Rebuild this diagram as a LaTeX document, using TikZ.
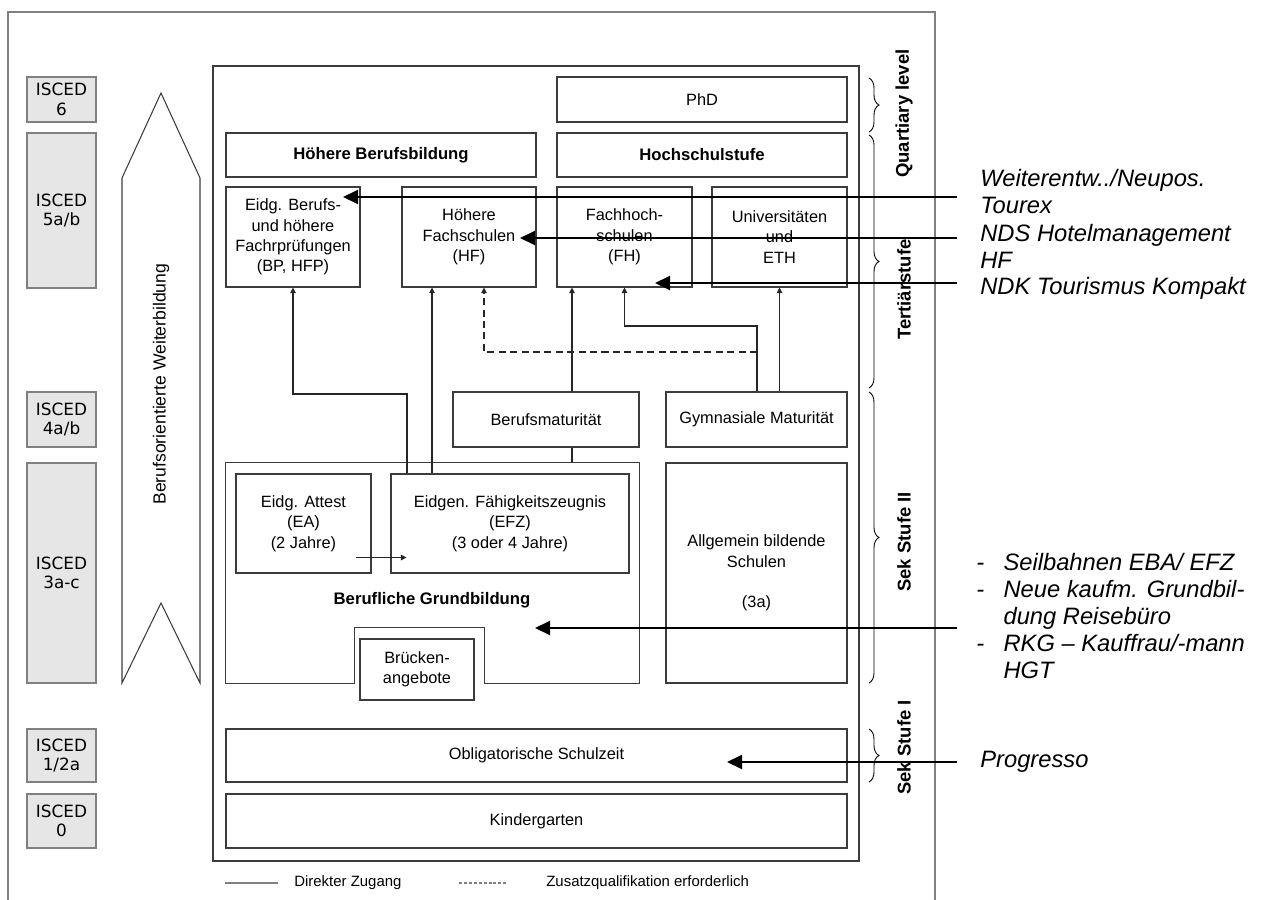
\documentclass[tikz,border=0pt]{standalone}
\usepackage{fontspec}
\setmainfont{Liberation Sans}
\newfontfamily\iscedfont{DejaVu Sans}
\definecolor{framegray}{RGB}{128, 128, 128}
\definecolor{boxgray}{RGB}{60, 60, 60}
\definecolor{iscedfill}{RGB}{230, 230, 230}
\usetikzlibrary{arrows.meta, calc, decorations.pathreplacing}

\begin{document}
\begin{tikzpicture}[x=0.2mm, y=-0.2mm,
  sz/.style 2 args={minimum width=#1*0.2mm, minimum height=#2*0.2mm},
  box/.style={draw=boxgray, line width=0.6pt, align=center, inner sep=1pt, font=\fontsize{9.3}{11.6}\selectfont},
  boldbox/.style={box, font=\fontsize{9.5}{11.6}\selectfont\bfseries},
  isced/.style={draw=framegray, fill=iscedfill, line width=0.6pt, align=center, inner sep=1pt, sz={69}{#1}, font=\iscedfont\fontsize{9.6}{11}\selectfont},
  side/.style={rotate=90, anchor=west, inner sep=0pt, font=\fontsize{10.5}{12}\selectfont\bfseries},
  note/.style={anchor=west, inner sep=0pt, align=left, font=\fontsize{13.5}{15.3}\selectfont\itshape},
  legend/.style={anchor=west, inner sep=0pt, font=\fontsize{8.5}{10}\selectfont},
  link/.style={-{Triangle[length=1.1mm, width=1.1mm]}, line width=0.6pt, black!85},
  plain/.style={line width=0.6pt, black!85},
  bigarrow/.style={-{Triangle[length=3mm, width=2.8mm]}, line width=1.1pt, black},
  brace/.style={decorate, decoration={brace, amplitude=2mm}, line width=0.5pt}]

  \useasboundingbox (0,0) rectangle (1264,900);

  % Frames
  \draw[framegray, line width=0.6pt] (8,900) -- (8,12) -- (935,12) -- (935,900);
  \draw[boxgray, line width=0.6pt] (213,66) rectangle (859,861);

  % ISCED levels
  \node[isced=45] (isc6) at (61.5,99.5) {ISCED\\6};
  \node[isced=155] (isc5) at (61.5,210.5) {ISCED\\5a/b};
  \node[isced=55] (isc4) at (61.5,419.5) {ISCED\\4a/b};
  \node[isced=220] (isc3) at (61.5,573) {ISCED\\3a-c};
  \node[isced=53] (isc12) at (61.5,755.5) {ISCED\\1/2a};
  \node[isced=54] (isc0) at (61.5,821) {ISCED\\0};

  % Weiterbildung arrow
  \draw[boxgray, line width=0.6pt] (161,93) -- (200,178) -- (200,683) -- (161,603) -- (122,683) -- (122,178) -- cycle;
  \node[rotate=90, anchor=west, inner sep=0pt, font=\fontsize{10}{12}\selectfont] (wb) at (161,505) {Berufsorientierte Weiterbildung};

  % Tertiary and quartiary level
  \node[box, sz={290}{45}] (phd) at (702,99.5) {PhD};
  \node[boldbox, sz={290}{44}] (hoch) at (702,155) {Hochschulstufe};
  \node[boldbox, sz={310}{44}] (hbb) at (381,155) {Höhere Berufsbildung};
  \node[box, sz={134}{100}] (bp) at (293,237) {Eidg. Berufs-\\und höhere\\Fachrprüfungen\\(BP, HFP)};
  \node[box, sz={134}{100}] (hf) at (469,237) {Höhere\\Fachschulen\\(HF)};
  \node[box, sz={135}{100}] (fh) at (624.5,237) {Fachhoch-\\schulen\\(FH)};
  \node[box, sz={135}{100}] (uni) at (779.5,237) {Universitäten\\und\\ETH};

  % Sek Stufe II
  \node[box, sz={186}{55}] (bm) at (546,419.5) {Berufsmaturität};
  \node[box, sz={181}{55}] (gm) at (756.5,419.5) {Gymnasiale Maturität};
  \node[sz={413}{220}, inner sep=0pt] (bg) at (432.5,573) {};
  \node[box, sz={135}{99}] (att) at (303.5,523.5) {Eidg. Attest\\(EA)\\(2 Jahre)};
  \node[box, sz={238}{99}] (efz) at (510,523.5) {Eidgen. Fähigkeitszeugnis\\(EFZ)\\(3 oder 4 Jahre)};
  \node[font=\fontsize{9.5}{11.6}\selectfont\bfseries] (bglabel) at (432,600) {Berufliche Grundbildung};
  \node[box, sz={114}{61}] (bruecke) at (417,669.5) {Brücken-\\angebote};
  \node[box, sz={181}{220}] (abs) at (756.5,573) {Allgemein bildende\\Schulen\\[11.6pt](3a)};
  \coordinate (notchL) at ($(bruecke.north west)+(-5,-11)$);
  \coordinate (notchR) at ($(bruecke.north east)+(10,-11)$);
  \draw[boxgray, line width=0.6pt] (bg.north west) -- (bg.north east) -- (bg.south east) -- (notchR |- bg.south) -- (notchR) -- (notchL) -- (notchL |- bg.south) -- (bg.south west) -- cycle;

  % Sek Stufe I and below
  \node[box, sz={621}{53}] (obl) at (536.5,755.5) {Obligatorische Schulzeit};
  \node[box, sz={621}{54}] (kg) at (536.5,821) {Kindergarten};

  % Access paths
  \coordinate (r1) at (0,394);
  \coordinate (r2) at (0,326);
  \coordinate (r3) at (0,352);
  \coordinate (cB) at (407,0);
  \coordinate (cC) at (432,0);
  \coordinate (cD) at (484,0);
  \coordinate (cE) at (572,0);
  \coordinate (cF) at (757,0);
  \draw[link] (efz.north -| cB) |- (r1 -| bp.south) -- (bp.south);
  \draw[link] (efz.north -| cC) -- (hf.south -| cC);
  \draw[link] (bm.north -| cE) -- (fh.south -| cE);
  \draw[plain] (bm.south -| cE) -- (bg.north -| cE);
  \draw[link] (gm.north -| cF) |- (r2 -| fh.south) -- (fh.south);
  \draw[link, dash pattern=on 4pt off 2.5pt] (r3 -| cF) -| (hf.south -| cD);
  \draw[link] (gm.north -| uni.south) -- (uni.south);
  \draw[link] ($(att.south east)+(-16,-16)$) -- ($(efz.south west)+(16,-16)$);

  % Level braces
  \draw[brace] (869,78) -- (869,132);
  \draw[brace] (869,135) -- (869,388);
  \draw[brace] (869,392) -- (869,683);
  \draw[brace] (869,729) -- (869,782);
  \node[side] (quart) at (904,178) {Quartiary level};
  \node[side] (tert) at (904,340) {Tertiärstufe};
  \node[side] (sek2) at (904,592) {Sek Stufe II};
  \node[side] (sek1) at (904,795) {Sek Stufe I};

  % Offers
  \node[note] (n1) at (980,191.5) {Weiterentw../Neupos.\\Tourex};
  \node[note] (n2) at (980,246.5) {NDS Hotelmanagement\\HF};
  \node[note] (n3) at (980,288) {NDK Tourismus Kompakt};
  \node[note] (n4) at (976,619) {\begin{tabular}{@{}l@{\hspace{11pt}}l@{}}
    - & Seilbahnen EBA/ EFZ\\
    - & Neue kaufm. Grundbil-\\
      & dung Reisebüro\\
    - & RKG – Kauffrau/-mann\\
      & HGT
  \end{tabular}};
  \node[note] (n5) at (980,762) {Progresso};
  \coordinate (s1) at (957,197);  \coordinate (t1) at (343,197);
  \coordinate (s2) at (957,238);  \coordinate (t2) at (520,238);
  \coordinate (s3) at (957,283);  \coordinate (t3) at (655,283);
  \coordinate (s4) at (957,628);  \coordinate (t4) at (535,628);
  \coordinate (s5) at (957,762);  \coordinate (t5) at (727,762);
  \draw[bigarrow] (s1) -- (t1);
  \draw[bigarrow] (s2) -- (t2);
  \draw[bigarrow] (s3) -- (t3);
  \draw[bigarrow] (s4) -- (t4);
  \draw[bigarrow] (s5) -- (t5);

  % Legend
  \node[legend] (lg1) at (294,883) {Direkter Zugang};
  \node[legend] (lg2) at (546,883) {Zusatzqualifikation erforderlich};
  \draw[framegray, line width=0.6pt] ($(lg1.west)+(-69,0)$) -- ($(lg1.west)+(-16,0)$);
  \draw[framegray, line width=0.6pt, dash pattern=on 1.7pt off 1.1pt] ($(lg2.west)+(-87,0)$) -- ($(lg2.west)+(-38,0)$);
\end{tikzpicture}
\end{document}
